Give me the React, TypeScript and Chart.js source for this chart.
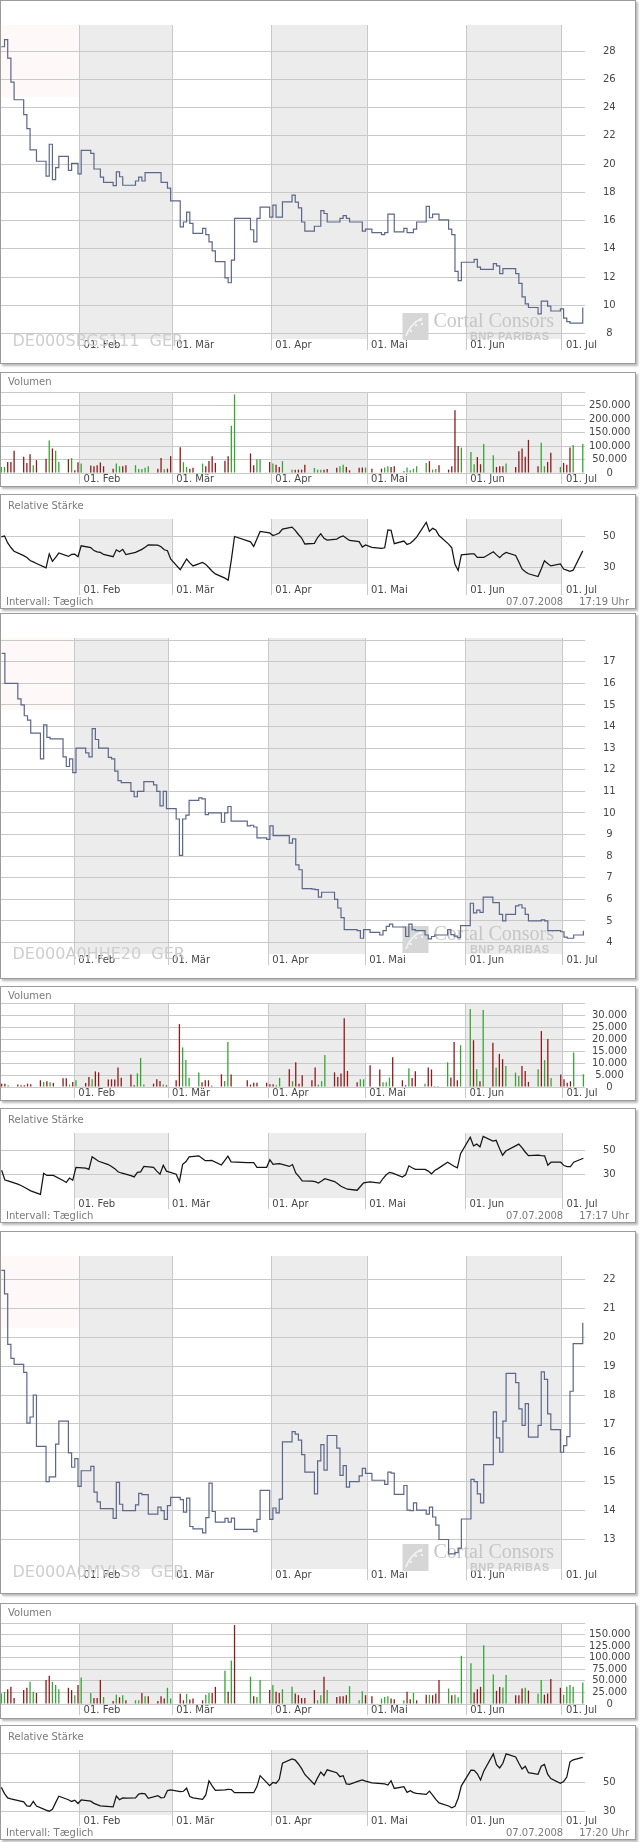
import React, { useEffect, useRef } from 'react';
import { Chart, registerables } from 'chart.js';

Chart.register(...registerables);

const FONT = 'DejaVu Sans';
Chart.defaults.font.family = FONT;
Chart.defaults.font.size = 10;

// ---------- shared axes ----------
// trading days as day-of-year (0 = 01.01.2008)
const TRADING_DAYS = [
  6, 7, 8, 9, 10,
  13, 14, 15, 16, 17,
  20, 21, 22, 23, 24,
  27, 28, 29, 30, 31,
  34, 35, 36, 37, 38,
  41, 42, 43, 44, 45,
  48, 49, 50, 51, 52,
  55, 56, 57, 58, 59,
  62, 63, 64, 65, 66,
  69, 70, 71, 72, 73,
  76, 77, 78, 79,
  84, 85, 86, 87,
  90, 91, 92, 93, 94,
  97, 98, 99, 100, 101,
  104, 105, 106, 107, 108,
  111, 112, 113, 114, 115,
  118, 119, 120, 122,
  125, 126, 127, 128, 129,
  132, 133, 134, 135, 136,
  139, 140, 141, 142, 143,
  146, 147, 148, 149, 150,
  153, 154, 155, 156, 157,
  160, 161, 162, 163, 164,
  167, 168, 169, 170, 171,
  174, 175, 176, 177, 178,
  181, 182, 183, 184, 185,
  188,
];
const TRADING_DAYS_2 = TRADING_DAYS.slice(2); // second instrument starts 09.01.

const MONTH_TICKS = [31, 60, 91, 121, 152, 182];
const MONTH_LABELS = ['01. Feb', '01. Mär', '01. Apr', '01. Mai', '01. Jun', '01. Jul'];
const SHADED_MONTHS = [[31, 60], [91, 121], [152, 182]];

const DATE_TEXT = '07.07.2008';
const INTERVAL_TEXT = 'Intervall: Tæglich';

// ---------- instrument 1 ----------
const ISIN_1 = 'DE000SBGS111  GER';
const TIME_1 = '17:19 Uhr';
const PRICE_1 = [
  28.3, 28.8, 27.5, 25.8, 24.55,
  23.5, 22.5, 21.0, 21.0, 20.2,
  19.15, 21.4, 18.9, 19.75, 20.55,
  19.55, 20.05, 20.05, 19.3, 20.97,
  20.76, 19.65, 19.65, 19.07, 18.7,
  18.48, 19.45, 19.1, 18.5, 18.5,
  18.8, 19.07, 18.8, 19.4, 19.4,
  19.4, 18.7, 18.7, 18.3, 17.4,
  15.55, 15.9, 16.6, 15.8, 15.1,
  15.45, 15.0, 14.5, 13.85, 13.1,
  11.95, 11.6, 13.2, 16.15,
  15.35, 14.5, 16.15, 16.95,
  16.25, 17.1, 16.25, 16.25, 17.33,
  17.8, 17.3, 16.9, 15.9, 15.25,
  15.6, 15.6, 16.7, 16.5, 15.9,
  15.9, 16.15, 16.35, 16.15, 15.9,
  15.9, 15.25, 15.4, 15.15,
  15.0, 15.15, 16.45, 16.45, 15.2,
  15.45, 15.15, 15.15, 15.4, 15.9,
  17.0, 16.2, 16.45, 16.45, 16.05,
  15.4, 15.0, 12.4, 11.75, 13.05,
  13.05, 13.25, 12.7, 12.55, 12.55,
  12.95, 12.8, 12.25, 12.6, 12.6,
  12.25, 11.55, 10.6, 10.1, 9.85,
  9.4, 10.3, 10.3, 9.95, 9.6,
  9.75, 9.1, 8.85, 8.75, 8.75,
  9.85,
];
const VOLUME_1 = [
  22500, 22500, 41000, 41000, 82500,
  60000, 37500, 69000, 29000, 47500,
  52500, 120000, 91000, 82500, 41000,
  51000, 55000, 10000, 40000, 35000,
  27500, 25000, 29000, 39000, 25000,
  16000, 35000, 25000, 25000, 29000,
  29000, 15000, 15000, 19000, 25000,
  16000, 56000, 14000, 16000, 62500,
  95000, 40000, 22500, 16000, 19000,
  35000, 25000, 44000, 62500, 37500,
  45000, 62500, 175000, 291000,
  72500, 29000, 51000, 51000,
  41000, 35000, 31000, 22500, 44000,
  12500, 12500, 12500, 12500, 31000,
  19000, 12500, 12500, 12500, 15000,
  19000, 25000, 31000, 22500, 10000,
  19000, 20000, 20000, 16000,
  16000, 20000, 25000, 22500, 25000,
  7500, 20000, 10000, 16000, 25000,
  37500, 44000, 12500, 15000, 29000,
  12500, 25000, 232500, 100000, 94000,
  77500, 32500, 59000, 32500, 107500,
  66000, 22500, 25000, 25000, 35000,
  22500, 81000, 91000, 60000, 122500,
  25000, 112500, 25000, 41000, 75000,
  22500, 37500, 31000, 94000, 104000,
  107500,
];
const VOLUME_1_DIR =
  'ggrrr rrrgr rgrgg rgrrg rrrrr rggrr ggggg rrgrr rggrr grrrr rrgg rrgg rgrrg grrrr gggrr rggrr rrgr rggrr ggggg grggr rrrrg ggrrg grrrg rrrrr rggrr grrrg g';
const RS_1 = [
  50, 50.5, 46, 43, 40.6,
  37.7, 36.5, 34.5, 33.6, 32.6,
  29.7, 38.8, 34, 36.5, 39.4,
  37.2, 38.5, 38.6, 37, 44.1,
  43, 41, 40.2, 39.8, 38.5,
  37, 41.5, 40.2, 41.8, 38.4,
  39.8, 40.8, 41.8, 43.2, 44.7,
  44.5, 43.5, 41.5, 40.9, 35.5,
  28.5, 32, 35.5, 33, 31,
  33.3, 32, 29.8, 27.5, 25.8,
  23, 21.7, 35, 50.2,
  46.7, 43.7, 48.5, 53.5,
  52.5, 50.8, 51.5, 52.5, 55,
  56.3, 54.2, 51.5, 49.2, 45.3,
  45.7, 49.5, 52, 49, 47.8,
  48.5, 49.8, 50.6, 49, 47.6,
  46.8, 43.3, 44.7, 43.1,
  42.4, 42.8, 54.5, 54.2, 45.5,
  47.2, 45, 45.8, 47.6, 49.8,
  59.4, 53.5, 55.5, 54.5, 50.8,
  45.2, 42.8, 32, 28, 38.2,
  38.9, 38.8, 36.5, 36.5, 36.5,
  40.2, 38.2, 36.4, 38.5, 39.8,
  37.8, 33.5, 29, 27.2, 25.9,
  24.1, 29, 34.3, 32.6, 31,
  32.3, 29, 28.2, 27.5, 28.2,
  40.8,
];
const PRICE_TICKS_1 = [8, 10, 12, 14, 16, 18, 20, 22, 24, 26, 28];
const VOLUME_TICKS_1 = [0, 50000, 100000, 150000, 200000, 250000, 300000];
const RS_TICKS_1 = [30, 50];

// ---------- instrument 2 ----------
const ISIN_2 = 'DE000A0HHE20  GER';
const TIME_2 = '17:17 Uhr';
const PRICE_2 = [
  17.39, 16.0, 16.0,
  15.28, 15.0, 14.5, 14.3, 13.7,
  12.5, 14.08, 13.5, 13.43, 13.43,
  12.6, 12.15, 12.5, 11.87, 13.0,
  12.78, 12.6, 13.9, 13.4, 13.0,
  12.57, 12.5, 11.94, 11.5, 11.4,
  11.0, 10.75, 11.0, 11.0, 11.45,
  11.3, 11.0, 10.33, 11.0, 10.2,
  9.72, 8.04, 9.72, 9.9, 10.58,
  10.7, 10.65, 9.92, 10.0, 10.0,
  9.57, 10.0, 10.3, 9.62,
  9.4, 9.43, 9.35, 8.85,
  8.78, 9.4, 8.95, 8.95, 8.95,
  8.6, 8.8, 7.6, 7.37, 6.5,
  6.47, 6.45, 6.1, 6.33, 6.33,
  6.0, 5.6, 5.15, 4.6, 4.6,
  4.55, 4.2, 4.6, 4.47,
  4.35, 4.55, 4.75, 4.85, 4.72,
  4.72, 4.28, 4.85, 4.6, 4.55,
  4.35, 4.17, 4.28, 4.35, 4.35,
  4.6, 4.37, 4.3, 4.23, 4.78,
  5.82, 5.37, 5.5, 5.4, 6.1,
  5.85, 5.85, 5.3, 5.0, 5.3,
  5.7, 5.75, 5.6, 5.3, 5.0,
  5.0, 5.05, 5.0, 4.55, 4.55,
  4.5, 4.25, 4.2, 4.2, 4.35,
  4.55,
];
const VOLUME_2 = [
  1400, 1400, 700,
  1000, 700, 700, 1400, 1100,
  2800, 2100, 2400, 2000, 1700,
  3600, 3600, 1000, 2100, 2800,
  1700, 4200, 3200, 6500, 6100,
  3100, 3200, 3100, 8100, 3900,
  5200, 700, 5700, 12100, 1000,
  1400, 3200, 2500, 1000, 700,
  2800, 26200, 16500, 11200, 3900,
  6000, 2000, 2800, 2800, 500,
  5300, 2500, 18700, 5200,
  2800, 1000, 1800, 1800,
  1800, 1100, 1100, 700, 3800,
  7400, 2400, 10300, 1400, 4900,
  2800, 8100, 1000, 2400, 13300,
  6100, 4200, 5600, 28600, 6700,
  2000, 3200, 3200, 9100,
  7300, 2000, 2000, 3900, 12400,
  2800, 700, 7800, 3800, 6600,
  1400, 8100, 7300, 400, 400,
  10300, 4000, 18700, 2800, 17400,
  32500, 19500, 7400, 2400, 32100,
  18400, 8000, 13800, 11600, 8700,
  6000, 4600, 8700, 6700, 2100,
  7400, 23300, 11200, 20000, 3800,
  5200, 3200, 1800, 2400, 14400,
  5300,
];
const VOLUME_2_DIR =
  'rrg rrrrr rgrgr rrgrg rrgrr rrrrr rrggg rrrgr rrggg grrrr rggr rrrr rrrgg rgrrr rrggg rrrrr rggr rgggr rrgrr grrgg grrrg grgrg rgrrg ggrrr grgrg rrrrg g';
const RS_2 = [
  33.7, 25.8, 25.1,
  22.5, 21.3, 19.9, 18.5, 17,
  14.1, 31.2, 29.5, 29.5, 29.5,
  25.4, 23.8, 27.4, 25.6, 36,
  35.4, 34.4, 44.6, 42.8, 41,
  38.3, 36.8, 35, 32.5, 31.5,
  29.3, 28.3, 32, 32.4, 36.8,
  36.1, 33, 30.5, 37.8, 33,
  30.5, 24.4, 38.5, 40.5, 44.6,
  45.4, 43.5, 41.5, 41.5, 41.7,
  38, 41.5, 45.1, 40.5,
  39.8, 39.8, 39.8, 36.1,
  36.1, 42.2, 38.5, 38.8, 39,
  36.8, 38.3, 31.5, 28.5, 25.1,
  24.8, 24.5, 23.4, 25, 26.8,
  24.5, 22.7, 20.7, 19.5, 18.3,
  17.5, 20.5, 23.5, 24.2,
  23.2, 27, 30, 32, 31.4,
  28.2, 30, 37.3, 35.7, 34.4,
  34.4, 33, 30.8, 33.5, 35,
  40.2, 38.5, 37, 35.6, 47.1,
  60.5, 53.4, 54.9, 52.7, 61.2,
  57.3, 58, 51.5, 45.9, 49.3,
  53.5, 54.9, 52, 48.5, 45.5,
  45.9, 45.6, 45.4, 37.8, 40.2,
  40.2, 37.5, 36.7, 36.6, 40.2,
  43.4,
];
const PRICE_TICKS_2 = [4, 5, 6, 7, 8, 9, 10, 11, 12, 13, 14, 15, 16, 17, 18];
const VOLUME_TICKS_2 = [0, 5000, 10000, 15000, 20000, 25000, 30000, 35000];
const RS_TICKS_2 = [30, 50];

// ---------- instrument 3 ----------
const ISIN_3 = 'DE000A0MVLS8  GER';
const TIME_3 = '17:20 Uhr';
const PRICE_3 = [
  22.31, 21.5, 19.75, 19.27, 19.06,
  18.78, 17.03, 17.24, 18.0, 16.22,
  15.0, 15.17, 15.17, 16.3, 17.1,
  16.0, 15.5, 15.8, 14.84, 15.38,
  15.53, 14.64, 14.3, 14.07, 14.07,
  13.73, 14.98, 14.22, 14.0, 14.0,
  14.2, 14.6, 14.55, 14.55, 13.88,
  14.12, 14.0, 13.7, 14.17, 14.46,
  14.38, 13.95, 14.43, 13.45, 13.37,
  13.23, 13.76, 14.95, 13.97, 13.6,
  13.73, 13.6, 13.74, 13.35,
  13.35, 13.27, 13.7, 14.7,
  13.7, 14.09, 13.92, 14.4, 16.38,
  16.73, 16.65, 16.44, 15.94, 15.33,
  14.58, 15.72, 16.28, 15.4, 16.6,
  16.16, 15.22, 15.56, 14.81, 15.0,
  15.2, 15.46, 15.29, 15.05,
  15.05, 14.91, 15.33, 15.3, 14.56,
  14.87, 14.02, 14.0, 14.27, 14.02,
  13.88, 14.12, 13.78, 13.5, 13.0,
  12.5, 12.5, 12.55, 12.7, 13.71,
  15.08, 15.0, 14.58, 14.27, 15.59,
  17.42, 16.52, 16.02, 17.1, 18.75,
  18.43, 17.52, 16.95, 17.7, 16.54,
  16.95, 18.8, 18.54, 17.35, 16.8,
  16.02, 16.25, 16.56, 18.13, 19.78,
  20.5,
];
const VOLUME_3 = [
  22600, 26200, 32000, 37000, 13000,
  30000, 35000, 48000, 26200, 24000,
  52000, 61000, 48000, 41000, 32000,
  35000, 30000, 19000, 41000, 57000,
  24000, 13000, 13000, 52000, 15000,
  6600, 20000, 14600, 19000, 8000,
  8000, 8000, 24000, 16800, 16800,
  6600, 16800, 11700, 35000, 11700,
  21900, 8000, 21900, 9500, 11700,
  8000, 20000, 24000, 24000, 37000,
  72000, 26200, 94000, 170600,
  59000, 16800, 15000, 52000,
  30000, 41000, 26200, 24000, 32000,
  37000, 22600, 19000, 13000, 13000,
  30000, 8000, 19000, 59000, 30000,
  15000, 16800, 16800, 19000, 38600,
  8000, 27700, 19000, 16800,
  11700, 15000, 16800, 11700, 10200,
  8000, 26200, 10200, 24000, 8000,
  20000, 20000, 19000, 22600, 52000,
  33500, 19000, 20000, 14600, 104000,
  88000, 24800, 32000, 37000, 127000,
  64000, 28400, 36500, 35700, 62700,
  19000, 19000, 33500, 35000, 29000,
  21900, 52000, 20000, 22600, 54000,
  35000, 20000, 37000, 41000, 37000,
  46700,
];
const VOLUME_3_DIR =
  'ggrrr rrggr rrggg rrgrg grrrg rgrgr ggrgr rrrgg rrgrr rggrr grgr grgg rgrrg grrrr rggrg rrrrg ggrr gggrr grrgr rgrrr grggg grrrg grrgg rrrgr ggrrr rgggg g';
const RS_3 = [
  46.5, 42.2, 39.2, 38.5, 38,
  36.5, 33.8, 33.5, 36.8, 33.6,
  30.8, 30.1, 31.4, 36, 40.4,
  38, 36.8, 37.6, 35.4, 37.8,
  37, 35.5, 34.6, 33.8, 33.6,
  33.1, 40.5, 38, 39.2, 39,
  39.3, 41.8, 42.3, 42, 38.9,
  40.7, 39.3, 39.5, 44.3, 44.7,
  43.5, 43.8, 45.9, 40.2, 39.3,
  38.2, 41.3, 51, 47.5, 44.4,
  44.7, 45.1, 45, 42.8,
  42.8, 42.8, 47, 54.5,
  47.7, 49.8, 49.3, 52, 63,
  66, 65.2, 62.5, 59.3, 55.3,
  48.5, 53, 57, 54.5, 58.5,
  56.5, 53.8, 54.5, 48.8, 48.6,
  50.9, 51.6, 50.8, 49.6,
  49.1, 48.8, 48, 51, 45.7,
  47, 43, 44.2, 42.9, 42.4,
  41.6, 43.9, 41.2, 38.2, 35.8,
  33.7, 32.5, 33.5, 39, 47.5,
  58.3, 58.2, 55.8, 51.5, 57.5,
  69.4, 62, 59.8, 63, 69.5,
  67.3, 63, 59, 60.9, 56.5,
  55.4, 61, 62.2, 55.5, 52.5,
  49.3, 50.5, 53.5, 64, 65.3,
  67,
];
const PRICE_TICKS_3 = [13, 14, 15, 16, 17, 18, 19, 20, 21, 22];
const VOLUME_TICKS_3 = [0, 25000, 50000, 75000, 100000, 125000, 150000, 175000];
const RS_TICKS_3 = [30, 50, 70];

// ---------- styling ----------
const GRID = '#c9c9c9';
const SHADE = '#ececec';
const PINK = 'rgba(252, 232, 232, 0.3)';
const PRICE_COLOR = '#5c6789';
const RS_COLOR = '#151515';
const UP_COLOR = '#35a635';
const DOWN_COLOR = '#8f1a1a';
const LABEL_COLOR = '#474747';
const SOFT_TEXT = '#7a7a7a';
const DATA_SHIFT = 0.5;
const PANEL_W = 636;
const CANVAS_W = 634;

type Geo = {
  top: number;
  height: number;
  chartTop: number;
  chartBottom: number;
  xMin: number;
  xMax: number;
  yMin: number;
  yMax: number;
  yTicks: number[];
  yHidden: number[];
  yPad: number;
};

const fmtDe = (v: number) => String(v).replace(/\B(?=(\d{3})+(?!\d))/g, '.');

function buildOptions(g: Geo, canvasH: number): any {
  return {
    responsive: false,
    maintainAspectRatio: false,
    animation: false,
    events: [],
    layout: { padding: { top: g.chartTop, left: 0, right: 0, bottom: 0 } },
    plugins: { legend: { display: false }, tooltip: { enabled: false }, title: { display: false } },
    scales: {
      x: {
        type: 'linear',
        min: g.xMin,
        max: g.xMax,
        bounds: 'data',
        offset: false,
        afterFit: (s: any) => {
          s.height = canvasH - g.chartBottom;
        },
        afterBuildTicks: (s: any) => {
          s.ticks = MONTH_TICKS.map((v) => ({ value: v }));
        },
        grid: { color: GRID, lineWidth: 1, drawTicks: true, tickLength: 11, tickColor: GRID, offset: false },
        border: { display: false },
        ticks: {
          autoSkip: false,
          maxRotation: 0,
          minRotation: 0,
          align: 'start',
          labelOffset: 4,
          padding: -11,
          color: LABEL_COLOR,
          font: { family: FONT, size: 10 },
          callback: (_v: any, i: number) => MONTH_LABELS[i],
        },
      },
      y: {
        type: 'linear',
        position: 'right',
        min: g.yMin,
        max: g.yMax,
        bounds: 'data',
        afterFit: (s: any) => {
          s.width = 50;
        },
        afterBuildTicks: (s: any) => {
          s.ticks = g.yTicks.map((v) => ({ value: v }));
        },
        grid: { color: GRID, lineWidth: 1, drawTicks: false },
        border: { display: false },
        ticks: {
          autoSkip: false,
          crossAlign: 'center',
          padding: g.yPad,
          color: LABEL_COLOR,
          font: { family: FONT, size: 10 },
          callback: (v: number) => (g.yHidden.includes(v) ? '' : fmtDe(v)),
        },
      },
    },
  };
}

function decorPlugin(isin: string | null): any {
  return {
    id: 'decor',
    beforeDraw(chart: any) {
      const { ctx, chartArea: a } = chart;
      const x = chart.scales.x;
      ctx.save();
      if (isin) {
        const xf = Math.round(x.getPixelForValue(MONTH_TICKS[0]));
        ctx.fillStyle = PINK;
        ctx.fillRect(a.left, a.top, xf - a.left, 72);
      }
      ctx.fillStyle = SHADE;
      for (const [s, e] of SHADED_MONTHS) {
        const x0 = Math.round(x.getPixelForValue(s));
        const x1 = Math.round(x.getPixelForValue(e));
        ctx.fillRect(x0, a.top, x1 - x0, a.bottom - a.top);
      }
      ctx.restore();
    },
    beforeDatasetsDraw(chart: any) {
      if (!isin) return;
      const ctx = chart.ctx;
      ctx.save();
      ctx.textAlign = 'left';
      ctx.textBaseline = 'alphabetic';
      ctx.font = `16px "${FONT}"`;
      ctx.fillStyle = '#cecece';
      ctx.fillText(isin, 11.5, 345);
      // logo mark
      ctx.fillStyle = '#d6d6d6';
      ctx.fillRect(401.5, 312, 26, 27);
      ctx.strokeStyle = '#f3f3f3';
      ctx.lineWidth = 1.6;
      ctx.beginPath();
      ctx.moveTo(405, 335);
      ctx.quadraticCurveTo(409, 323, 421, 317);
      ctx.stroke();
      ctx.fillStyle = '#f3f3f3';
      ctx.fillRect(418, 318, 3, 2);
      ctx.fillRect(414, 323, 2, 2);
      ctx.fillRect(409, 329, 2, 2);
      ctx.fillRect(420, 322, 2, 2);
      // logo words
      ctx.font = '20px "Liberation Serif"';
      ctx.fillStyle = '#c6c6c6';
      ctx.fillText('Cortal Consors', 432.5, 325.5);
      ctx.font = 'bold 11px "Liberation Sans"';
      try {
        (ctx as any).letterSpacing = '0.4px';
      } catch (e) {}
      ctx.fillStyle = '#c9c9c9';
      ctx.fillText('BNP PARIBAS', 469, 338.7);
      ctx.restore();
    },
  };
}

function ChartCanvas({ h, make }: { h: number; make: (c: HTMLCanvasElement) => Chart }) {
  const ref = useRef<HTMLCanvasElement>(null);
  useEffect(() => {
    const chart = make(ref.current as HTMLCanvasElement);
    return () => chart.destroy();
  }, []);
  return (
    <canvas
      ref={ref}
      width={CANVAS_W}
      height={h}
      style={{ position: 'absolute', left: 0, top: 0, width: CANVAS_W, height: h, display: 'block' }}
    />
  );
}

function Panel({ top, height, children }: { top: number; height: number; children?: any }) {
  return (
    <div
      style={{
        position: 'absolute',
        left: 0,
        top,
        width: PANEL_W,
        height,
        boxSizing: 'border-box',
        border: '1px solid #9c9c9c',
        background: '#fff',
        boxShadow: '2px 2px 2px rgba(0,0,0,0.28)',
      }}
    >
      {children}
    </div>
  );
}

const textStyle: any = {
  position: 'absolute',
  fontFamily: FONT,
  fontSize: 10,
  lineHeight: '12px',
  color: SOFT_TEXT,
  whiteSpace: 'pre',
};

function PricePanel({ g, isin, days, values }: { g: Geo; isin: string; days: number[]; values: number[] }) {
  const h = g.height - 2;
  return (
    <Panel top={g.top} height={g.height}>
      <ChartCanvas
        h={h}
        make={(c) =>
          new Chart(c, {
            type: 'line',
            data: {
              datasets: [
                {
                  data: days.map((d, i) => ({ x: d + DATA_SHIFT, y: values[i] })),
                  borderColor: PRICE_COLOR,
                  borderWidth: 1.2,
                  pointRadius: 0,
                  stepped: true,
                  fill: false,
                  tension: 0,
                } as any,
              ],
            },
            options: buildOptions(g, h),
            plugins: [decorPlugin(isin)],
          })
        }
      />
    </Panel>
  );
}

function VolumePanel({ g, days, values, dirs }: { g: Geo; days: number[]; values: number[]; dirs: string }) {
  const h = g.height - 2;
  const flags = dirs.replace(/\s/g, '');
  return (
    <Panel top={g.top} height={g.height}>
      <ChartCanvas
        h={h}
        make={(c) =>
          new Chart(c, {
            type: 'bar',
            data: {
              datasets: [
                {
                  data: days.map((d, i) => ({ x: d + DATA_SHIFT, y: values[i] })),
                  backgroundColor: days.map((_d, i) => (flags[i] === 'g' ? UP_COLOR : DOWN_COLOR)),
                  barThickness: 1.3,
                  inflateAmount: 0,
                  borderWidth: 0,
                } as any,
              ],
            },
            options: buildOptions(g, h),
            plugins: [decorPlugin(null)],
          })
        }
      />
      <div style={{ ...textStyle, left: 7, top: 3 }}>Volumen</div>
    </Panel>
  );
}

function RsPanel({ g, days, values, time }: { g: Geo; days: number[]; values: number[]; time: string }) {
  const h = g.height - 2;
  return (
    <Panel top={g.top} height={g.height}>
      <ChartCanvas
        h={h}
        make={(c) =>
          new Chart(c, {
            type: 'line',
            data: {
              datasets: [
                {
                  data: days.map((d, i) => ({ x: d + DATA_SHIFT, y: values[i] })),
                  borderColor: RS_COLOR,
                  borderWidth: 1.25,
                  pointRadius: 0,
                  fill: false,
                  tension: 0,
                } as any,
              ],
            },
            options: buildOptions(g, h),
            plugins: [decorPlugin(null)],
          })
        }
      />
      <div style={{ ...textStyle, left: 7, top: 5 }}>Relative Stärke</div>
      <div style={{ ...textStyle, left: 5, top: 101 }}>{INTERVAL_TEXT}</div>
      <div style={{ ...textStyle, right: 6, top: 101 }}>
        <span>{DATE_TEXT}</span>
        <span style={{ marginLeft: 16 }}>{time}</span>
      </div>
    </Panel>
  );
}

// panel geometry (layout only)
const X_A = { xMin: 6.4, xMax: 189.2 };
const X_B = { xMin: 8.3, xMax: 189.0 };

const G_P1: Geo = { top: 0, height: 364, chartTop: 0, chartBottom: 350, ...X_A, yMin: 7.62, yMax: 29.84, yTicks: PRICE_TICKS_1, yHidden: [], yPad: 18 };
const G_V1: Geo = { top: 372, height: 115, chartTop: 19, chartBottom: 100, ...X_A, yMin: 0, yMax: 300000, yTicks: VOLUME_TICKS_1, yHidden: [300000], yPad: 4 };
const G_R1: Geo = { top: 494, height: 115, chartTop: 18, chartBottom: 90, ...X_A, yMin: 19.2, yMax: 61.6, yTicks: RS_TICKS_1, yHidden: [], yPad: 18 };

const G_P2: Geo = { top: 613, height: 366, chartTop: 0, chartBottom: 351, ...X_B, yMin: 3.47, yMax: 18.1, yTicks: PRICE_TICKS_2, yHidden: [18], yPad: 18 };
const G_V2: Geo = { top: 986, height: 115, chartTop: 16, chartBottom: 100, ...X_B, yMin: 0, yMax: 35000, yTicks: VOLUME_TICKS_2, yHidden: [35000], yPad: 7 };
const G_R2: Geo = { top: 1108, height: 115, chartTop: 18, chartBottom: 90, ...X_B, yMin: 11.2, yMax: 63.9, yTicks: RS_TICKS_2, yHidden: [], yPad: 18 };

const G_P3: Geo = { top: 1231, height: 363, chartTop: 0, chartBottom: 350, ...X_A, yMin: 11.98, yMax: 22.81, yTicks: PRICE_TICKS_3, yHidden: [], yPad: 18 };
const G_V3: Geo = { top: 1603, height: 116, chartTop: 19, chartBottom: 100, ...X_A, yMin: 0, yMax: 175000, yTicks: VOLUME_TICKS_3, yHidden: [175000], yPad: 4 };
const G_R3: Geo = { top: 1725, height: 115, chartTop: 18, chartBottom: 90, ...X_A, yMin: 27.5, yMax: 72.1, yTicks: RS_TICKS_3, yHidden: [70], yPad: 18 };

export default function App() {
  return (
    <div style={{ position: 'absolute', left: 0, top: 0, width: 640, height: 1842, background: '#fff', overflow: 'hidden' }}>
      <PricePanel g={G_P1} isin={ISIN_1} days={TRADING_DAYS} values={PRICE_1} />
      <VolumePanel g={G_V1} days={TRADING_DAYS} values={VOLUME_1} dirs={VOLUME_1_DIR} />
      <RsPanel g={G_R1} days={TRADING_DAYS} values={RS_1} time={TIME_1} />

      <PricePanel g={G_P2} isin={ISIN_2} days={TRADING_DAYS_2} values={PRICE_2} />
      <VolumePanel g={G_V2} days={TRADING_DAYS_2} values={VOLUME_2} dirs={VOLUME_2_DIR} />
      <RsPanel g={G_R2} days={TRADING_DAYS_2} values={RS_2} time={TIME_2} />

      <PricePanel g={G_P3} isin={ISIN_3} days={TRADING_DAYS} values={PRICE_3} />
      <VolumePanel g={G_V3} days={TRADING_DAYS} values={VOLUME_3} dirs={VOLUME_3_DIR} />
      <RsPanel g={G_R3} days={TRADING_DAYS} values={RS_3} time={TIME_3} />
    </div>
  );
}
